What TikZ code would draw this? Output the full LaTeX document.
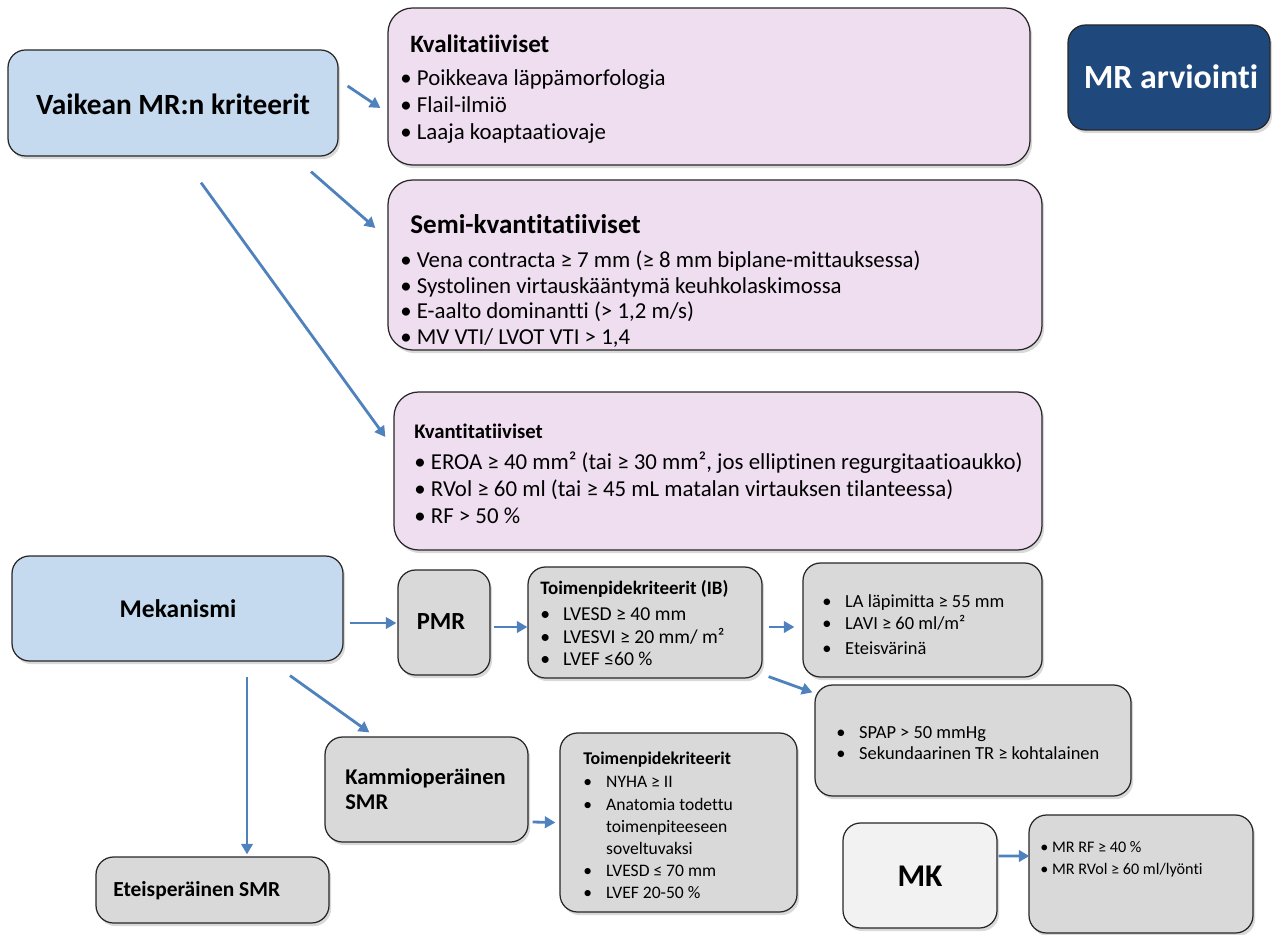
\documentclass[tikz,border=0pt]{standalone}
\usepackage{fontspec}
\setmainfont{Carlito}[Ligatures={NoCommon}]
\usetikzlibrary{arrows.meta, positioning, calc, fit, shadows}
\definecolor{lightblue}{RGB}{197,218,238}
\definecolor{softpink}{RGB}{239,221,240}
\definecolor{boxgray}{RGB}{217,217,217}
\definecolor{palegray}{RGB}{242,242,242}
\definecolor{navy}{RGB}{31,73,125}
\definecolor{arrowblue}{RGB}{79,129,189}
\newcommand{\bul}{\makebox[13pt][l]{•}}

\begin{document}
\begin{tikzpicture}[x=0.02cm, y=-0.02cm,
  box/.style={draw=black!85, line width=0.7pt, rounded corners=10pt, inner sep=0pt,
    drop shadow={shadow xshift=1.2pt, shadow yshift=-1.8pt, opacity=0.3}},
  bluebox/.style={box, fill=lightblue},
  pinkbox/.style={box, fill=softpink, rounded corners=14pt},
  graybox/.style={box, fill=boxgray},
  txt/.style={anchor=north west, inner sep=0pt, align=left},
  lbl/.style={inner sep=0pt, align=left, font=\bfseries},
  arr/.style={draw=arrowblue, line width=1.6pt, -{Triangle[length=6pt,width=6.5pt]}}]
  \useasboundingbox (0,0) rectangle (1273,935);
  % Criteria side
  \node[bluebox, fit={(8,50) (338,156)}] (vaik) {};
  \node[pinkbox, fit={(388,8) (1030,165)}] (kval) {};
  \node[pinkbox, fit={(388,180) (1042,350)}] (semi) {};
  \node[pinkbox, fit={(394,392) (1042,550)}] (kvant) {};
  \node[box, fill=navy, fit={(1068,25) (1270,130)}] (arvio) {};
  \node[lbl, font=\bfseries\fontsize{16.7}{20}\selectfont] (vaiklbl) at (173,104) {Vaikean MR:n kriteerit};
  \node[lbl, text=white, font=\bfseries\fontsize{19.3}{22}\selectfont] (arviolbl) at (1171,77) {MR arviointi};
  \node[txt, font=\fontsize{13}{15.3}\selectfont] (kvaltxt) at (400,35) {%
    \hspace*{5.7pt}{\fontsize{14.2}{16}\selectfont\bfseries Kvalitatiiviset}\\[3.4pt]
    • Poikkeava läppämorfologia\\
    • Flail-ilmiö\\
    • Laaja koaptaatiovaje};
  \node[txt, font=\fontsize{13}{14.7}\selectfont] (semitxt) at (400,214) {%
    \hspace*{5.7pt}{\fontsize{15.4}{18}\selectfont\bfseries Semi-kvantitatiiviset}\\[4.6pt]
    • Vena contracta ≥ 7 mm (≥ 8 mm biplane-mittauksessa)\\
    • Systolinen virtauskääntymä keuhkolaskimossa\\
    • E-aalto dominantti (> 1,2 m/s)\\
    • MV VTI/ LVOT VTI > 1,4};
  \node[txt, font=\fontsize{13}{15.3}\selectfont] (kvanttxt) at (414,424) {%
    {\fontsize{11.8}{14}\selectfont\bfseries Kvantitatiiviset}\\[2.3pt]
    • EROA ≥ 40 mm² (tai ≥ 30 mm², jos elliptinen regurgitaatioaukko)\\
    • RVol ≥ 60 ml (tai ≥ 45 mL matalan virtauksen tilanteessa)\\
    • RF > 50 \%};
  % Mechanism side
  \node[bluebox, fit={(12,556) (343,661)}] (mek) {};
  \node[graybox, fit={(398,570) (490,675)}] (pmr) {};
  \node[graybox, fit={(528,567) (762,678)}] (toimib) {};
  \node[graybox, fit={(803,563) (1042,677)}] (la) {};
  \node[graybox, fit={(815,685) (1131,796)}] (spap) {};
  \node[graybox, fit={(325,737) (528,842)}] (kammio) {};
  \node[graybox, fit={(560,733) (797,912)}] (toim) {};
  \node[graybox, fit={(96,857) (329,923)}] (eteis) {};
  \node[box, fill=palegray, fit={(843,823) (997,928)}] (mk) {};
  \node[graybox, fit={(1029,815) (1253,933)}] (mrrf) {};
  \node[lbl, font=\bfseries\fontsize{14.5}{17}\selectfont] (meklbl) at (178,609) {Mekanismi};
  \node[lbl, font=\bfseries\fontsize{14}{17}\selectfont] (pmrlbl) at (441,622) {PMR};
  \node[lbl, anchor=west, font=\bfseries\fontsize{12.8}{14.2}\selectfont] (kammiolbl) at (345,789) {Kammioperäinen\\SMR};
  \node[lbl, anchor=west, font=\bfseries\fontsize{12.2}{14}\selectfont] (eteislbl) at (113,891) {Eteisperäinen SMR};
  \node[lbl, font=\bfseries\fontsize{18}{21}\selectfont] (mklbl) at (920,876) {MK};
  \node[txt, font=\fontsize{11.2}{13}\selectfont] (toimibtxt) at (540,580) {%
    {\fontsize{10.8}{13}\selectfont\bfseries Toimenpidekriteerit (IB)}\\[1.7pt]
    \bul LVESD ≥ 40 mm\\
    \bul LVESVI ≥ 20 mm/ m²\\
    \bul LVEF ≤60 \%};
  \node[txt, font=\fontsize{10.5}{12.8}\selectfont] (latxt) at (822,594) {%
    \bul LA läpimitta ≥ 55 mm\\
    \bul LAVI ≥ 60 ml/m²\\[1.5pt]
    \bul Eteisvärinä};
  \node[txt, font=\fontsize{10.5}{11.9}\selectfont] (spaptxt) at (836,726) {%
    \bul SPAP > 50 mmHg\\
    \bul Sekundaarinen TR ≥ kohtalainen};
  \node[txt, font=\fontsize{10}{12.6}\selectfont] (toimtxt) at (583,752) {%
    {\fontsize{10.2}{12.6}\selectfont\bfseries Toimenpidekriteerit}\\[0.5pt]
    \bul NYHA ≥ II\\
    \bul Anatomia todettu\\
    \hspace*{13pt}toimenpiteeseen\\
    \hspace*{13pt}soveltuvaksi\\
    \bul LVESD ≤ 70 mm\\
    \bul LVEF 20-50 \%};
  \node[txt, font=\fontsize{9.2}{12.5}\selectfont] (mrrftxt) at (1040,841) {%
    • MR RF ≥ 40 \%\\
    • MR RVol ≥ 60 ml/lyönti};
  % Arrows
  \draw[arr] ([shift={(9,-17)}]vaik.east) -- ([shift={(-7,21.5)}]kval.west);
  \draw[arr] ([shift={(138,15)}]vaik.south) -- ([shift={(-12,-37)}]semi.west);
  \draw[arr] ([shift={(28,26)}]vaik.south) -- ([shift={(-8,-34)}]kvant.west);
  \draw[arr] ([shift={(6,14.5)}]mek.east) -- ([shift={(-1,0.5)}]pmr.west);
  \draw[arr] ([shift={(3,4.5)}]pmr.east) -- ([shift={(0,4.5)}]toimib.west);
  \draw[arr] ([shift={(6,4.5)}]toimib.east) -- ([shift={(-8,7)}]la.west);
  \draw[arr] ([shift={(6,-2)}]toimib.south east) -- ([shift={(-2,8)}]spap.north west);
  \draw[arr] ([shift={(69.5,15)}]mek.south) -- ([shift={(34.5,-2)}]eteis.north);
  \draw[arr] ([shift={(112.5,14)}]mek.south) -- ([shift={(45,-4)}]kammio.north west);
  \draw[arr] ([shift={(4,32.5)}]kammio.east) -- ([shift={(-4,0)}]toim.west);
  \draw[arr] ([shift={(1,-19.5)}]mk.east) -- ([shift={(1,-18)}]mrrf.west);
\end{tikzpicture}
\end{document}
